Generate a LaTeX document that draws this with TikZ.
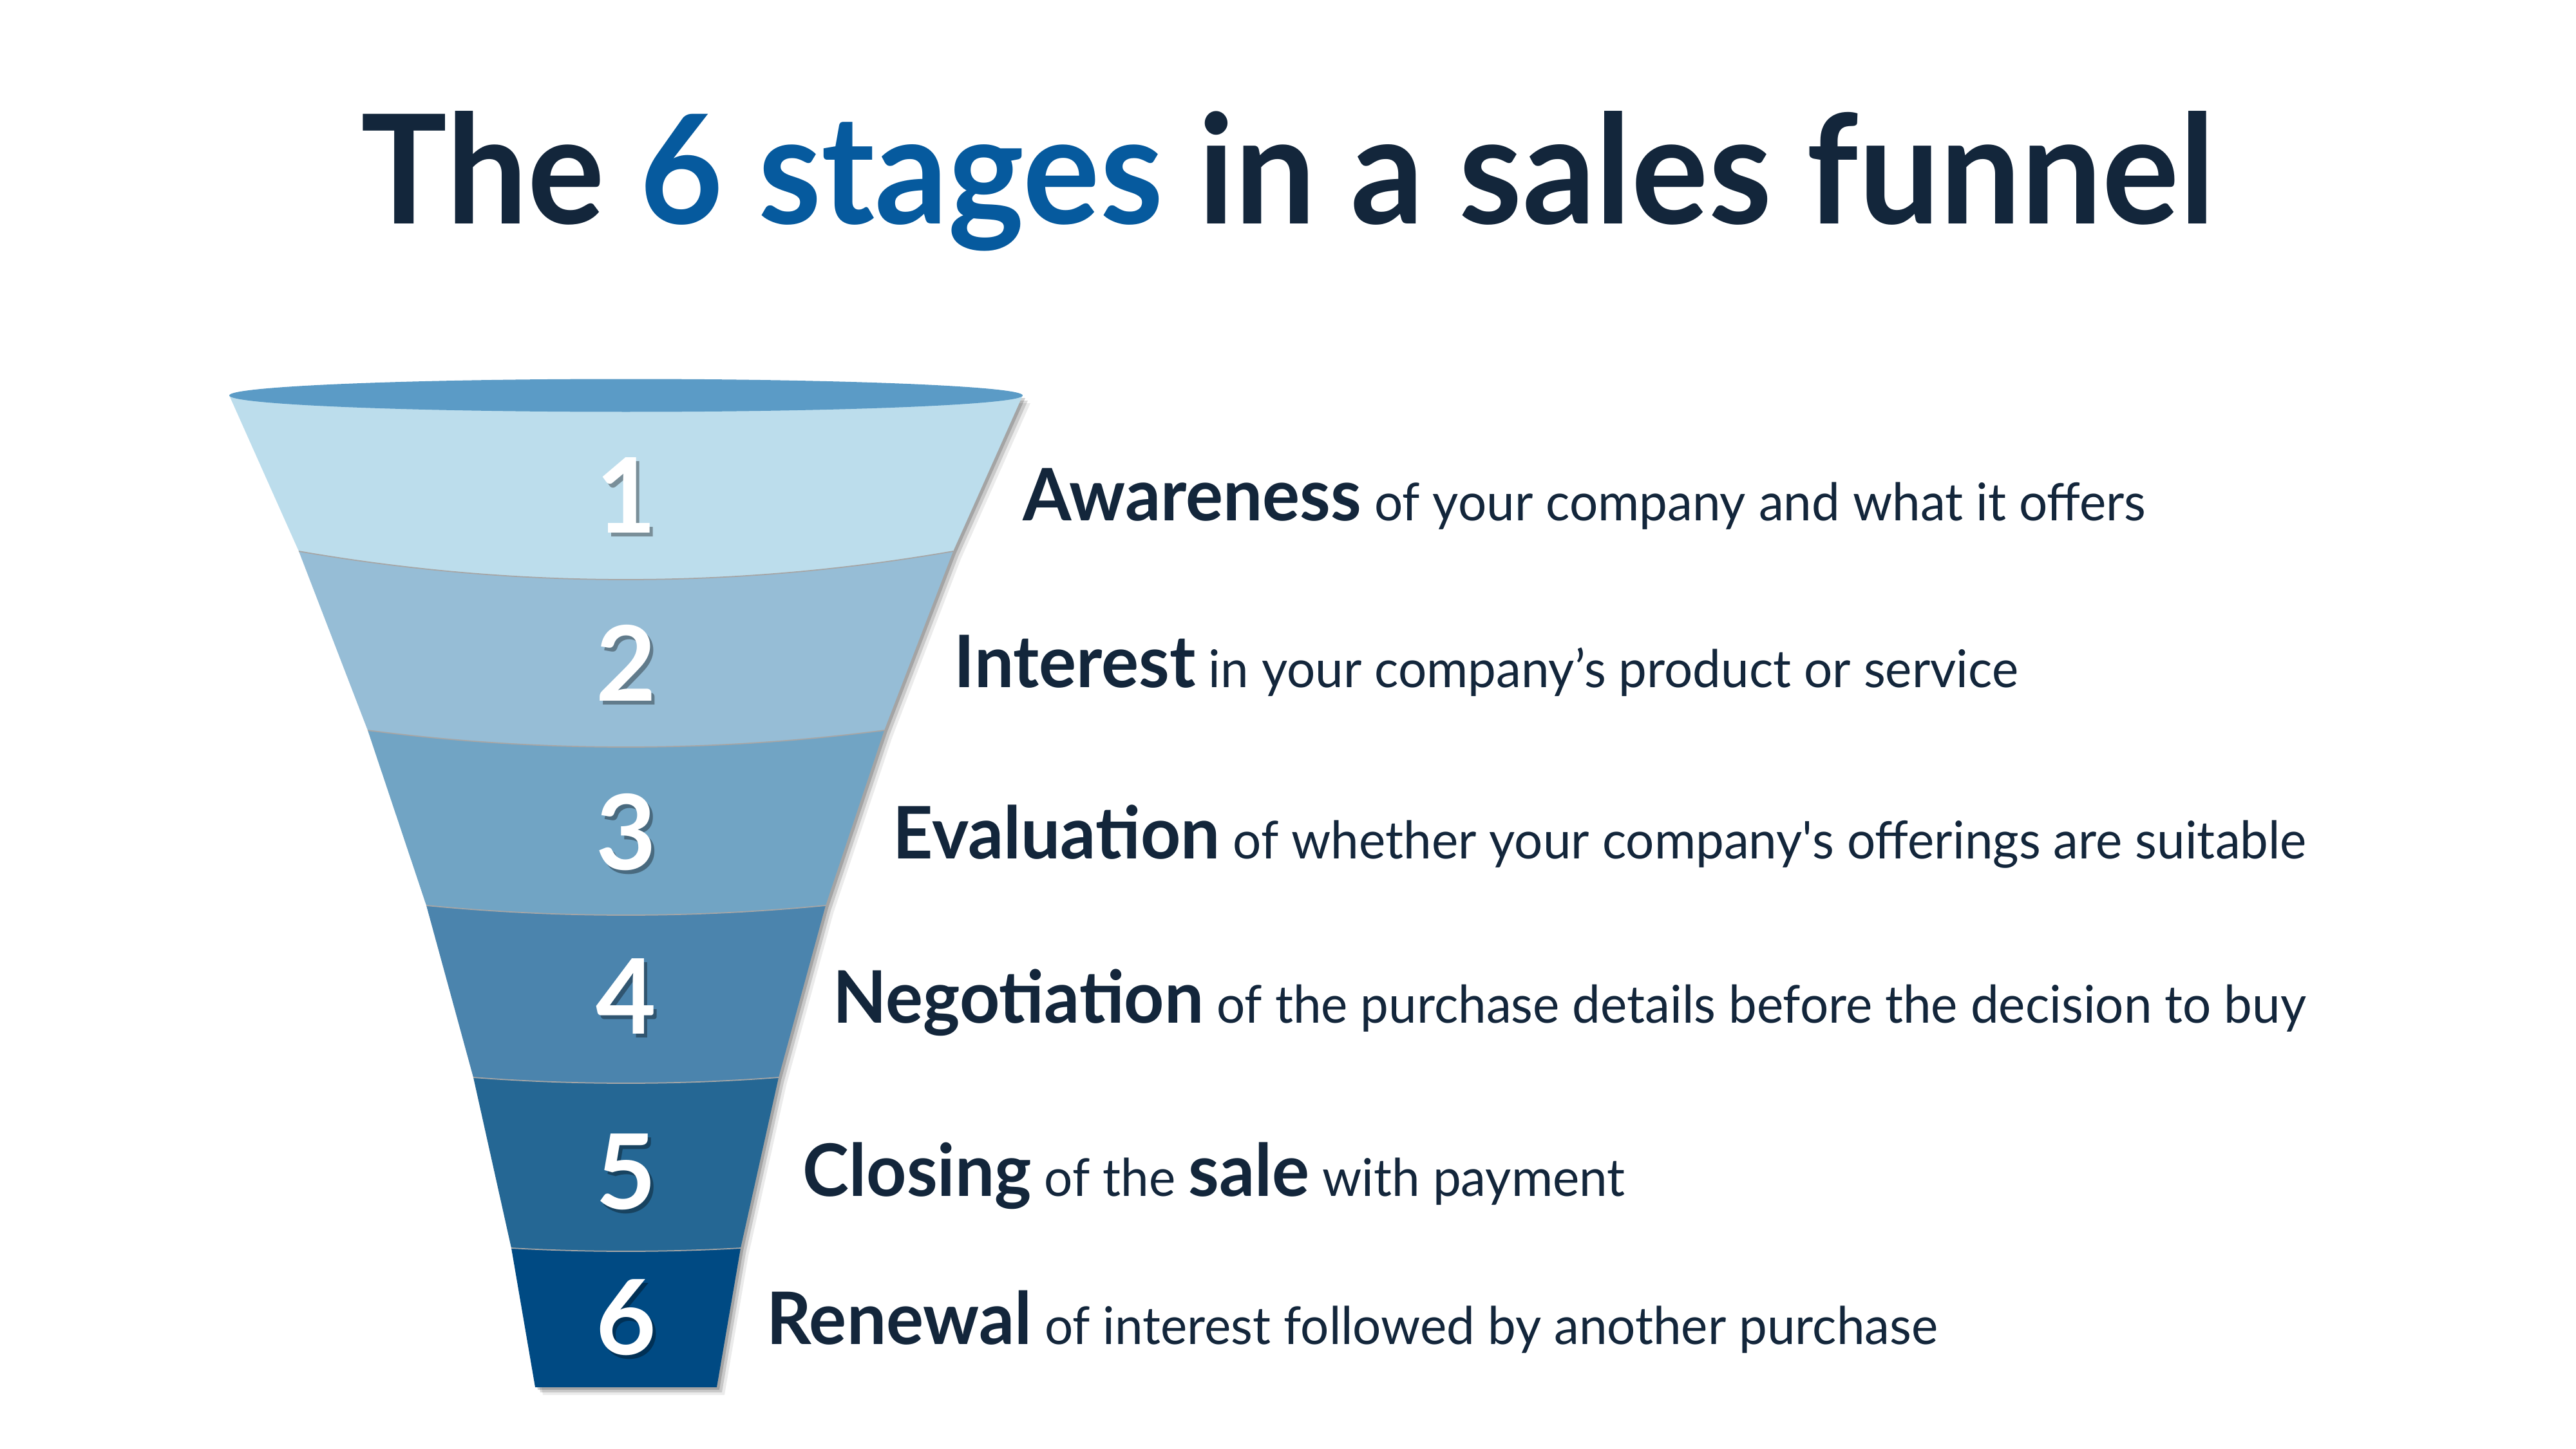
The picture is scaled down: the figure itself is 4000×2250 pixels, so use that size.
\documentclass[tikz,border=0pt]{standalone}
\usepackage{fontspec}
\setmainfont{Lato}
\usepackage{xcolor}
\usepackage{graphicx}
\usepackage{tikz}
\usetikzlibrary{positioning}
\definecolor{textnavy}{HTML}{13263B}
\definecolor{titleblue}{HTML}{065A9E}
\definecolor{rimblue}{HTML}{5B9BC6}
\definecolor{bandA}{HTML}{BCDDEC}
\definecolor{bandB}{HTML}{96BDD6}
\definecolor{bandC}{HTML}{71A4C4}
\definecolor{bandD}{HTML}{4B84AD}
\definecolor{bandE}{HTML}{256794}
\definecolor{bandF}{HTML}{004A83}
% one slice of the funnel: colour, top y, top half width, top dip, bottom y, bottom half width, bottom dip
\newcommand{\funnelband}[7]{%
  \fill[#1] ({972-#3},#2) .. controls ({972-#3/3},{#2+4*#4/3}) and ({972+#3/3},{#2+4*#4/3}) .. ({972+#3},#2)
    -- ({972+#6},#5) .. controls ({972+#6/3},{#5+4*#7/3}) and ({972-#6/3},{#5+4*#7/3}) .. ({972-#6},#5) -- cycle;
}
\newcommand{\seam}[3]{%
  \draw[seamline] ({972-#2},#1) .. controls ({972-#2/3},{#1+4*#3/3}) and ({972+#2/3},{#1+4*#3/3}) .. ({972+#2},#1);
}
\newcommand{\stagename}[1]{{\fontsize{32}{36}\selectfont\bfseries #1}}
\newcommand{\stageline}[1]{\scalebox{0.966}[1]{#1}}

\begin{document}
\begin{tikzpicture}[x=0.1mm,y=-0.1mm,
    seamline/.style={gray!70,line width=0.5pt},
    digit/.style={white,font=\fontsize{46}{46}\selectfont\bfseries,anchor=base,inner sep=0pt},
    digitshadow/.style={black,opacity=0.35,font=\fontsize{46}{46}\selectfont\bfseries,anchor=base,inner sep=0pt},
    desc/.style={textnavy,anchor=base west,inner sep=0pt,font=\fontsize{23}{28}\selectfont}]
  \fill[white] (0,0) rectangle (4000,2250);
  \useasboundingbox (0,0) rectangle (4000,2250);

  % title
  \node[textnavy,anchor=base,inner sep=0pt,font=\fontsize{67}{70}\selectfont\bfseries] (title) at (2000,348)
    {\scalebox{0.95}[1]{The \textcolor{titleblue}{6 stages} in a sales funnel}};

  % shadow of the funnel
  \foreach \s/\o in {4/0.18,8/0.14,12/0.08}{
    \fill[black,opacity=\o,xshift=\s*0.1mm,yshift=-\s*0.1mm]
      (356,614) -- (464,856) -- (572,1134) -- (662,1406) -- (735,1673) -- (794,1938) -- (831,2154)
      -- (1113,2154) -- (1150,1938) -- (1209,1673) -- (1282,1406) -- (1373,1134) -- (1480,856) -- (1588,614) -- cycle;
  }

  % slices
  \funnelband{bandA}{614}{616}{0}{856}{508}{44}
  \funnelband{bandB}{856}{508}{44}{1134}{401}{26}
  \funnelband{bandC}{1134}{401}{26}{1406}{310}{15}
  \funnelband{bandD}{1406}{310}{15}{1673}{237}{9}
  \funnelband{bandE}{1673}{237}{9}{1938}{178}{5}
  \funnelband{bandF}{1938}{178}{5}{2154}{141}{0}
  \seam{856}{508}{44}
  \seam{1134}{401}{26}
  \seam{1406}{310}{15}
  \seam{1673}{237}{9}
  \seam{1938}{178}{5}
  \fill[rimblue] (972,614) ellipse [x radius=616, y radius=25.5];

  % numbers
  \foreach \k/\y in {1/827,2/1088,3/1350,4/1605,5/1877,6/2103}{
    \node[digitshadow] (s\k) at (977,\y+6) {\k};
    \node[digit] (n\k) at (972,\y) {\k};
  }

  % stage texts
  \node[desc] (d1) at (1588,808) {\stageline{\stagename{Awareness} of your company and what it offers}};
  \node[desc] (d2) at (1481,1067) {\stageline{\stagename{Interest} in your company’s product or service}};
  \node[desc] (d3) at (1386,1333) {\stageline{\stagename{Evaluation} of whether your company\textquotesingle s offerings are suitable}};
  \node[desc] (d4) at (1293,1588) {\stageline{\stagename{Negotiation} of the purchase details before the decision to buy}};
  \node[desc] (d5) at (1246,1857) {\stageline{\stagename{Closing} of the \stagename{sale} with payment}};
  \node[desc] (d6) at (1190,2087) {\stageline{\stagename{Renewal} of interest followed by another purchase}};
\end{tikzpicture}
\end{document}
